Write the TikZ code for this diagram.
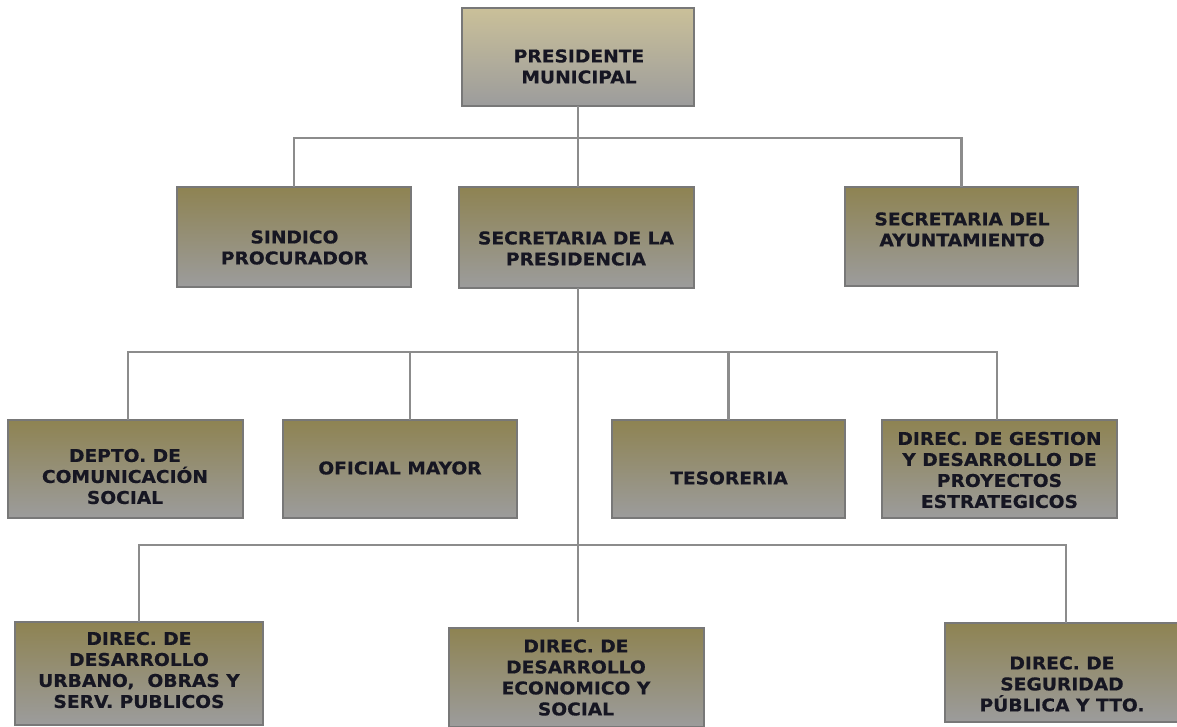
\documentclass[tikz,border=0pt]{standalone}
\usepackage{fontspec}
\newfontfamily\boxfont[FakeStretch=1.06,FakeBold=0.5]{DejaVu Sans}
\usetikzlibrary{calc}
\definecolor{boxtop}{RGB}{142,131,82}
\definecolor{prestop}{RGB}{202,192,153}
\definecolor{boxbot}{RGB}{156,156,156}
\definecolor{boxline}{RGB}{120,120,120}
\definecolor{linecol}{RGB}{140,140,140}
\definecolor{textcol}{RGB}{22,22,34}
\tikzset{
  orgbox/.style 2 args={draw=boxline, line width=0.9pt, top color=boxtop, bottom color=boxbot,
    minimum width=#1*0.75pt, minimum height=#2*0.75pt, inner sep=0pt, outer sep=0pt},
  txt/.style={align=center, font=\boxfont\bfseries\fontsize{13.2}{15.75}\selectfont, text=textcol, inner sep=0pt},
  conn/.style={draw=linecol, line width=1.7pt}
}
\begin{document}
\begin{tikzpicture}[x=0.75pt,y=-0.75pt]
\useasboundingbox (0,0) rectangle (1177,726);
% boxes
\node[orgbox={232}{98}, top color=prestop] (pres) at (578,57) {};
\node[orgbox={234}{100}] (sind) at (294,237) {};
\node[orgbox={235}{101}] (secp) at (576.5,237.5) {};
\node[orgbox={233}{99}] (secay) at (961.5,236.5) {};
\node[orgbox={235}{98}] (depto) at (125.5,469) {};
\node[orgbox={234}{98}] (ofic) at (400,469) {};
\node[orgbox={233}{98}] (teso) at (728.5,469) {};
\node[orgbox={235}{98}] (gest) at (999.5,469) {};
\node[orgbox={248}{103}] (urb) at (139,673.5) {};
\node[orgbox={255}{99}] (econ) at (576.5,677.5) {};
\node[orgbox={234}{99}] (seg) at (1062,672.5) {};
% texts
\node[txt] (pres-t) at (579,66.5) {PRESIDENTE\\MUNICIPAL};
\node[txt] (sind-t) at (294.5,247.5) {SINDICO\\PROCURADOR};
\node[txt] (secp-t) at (576,248.5) {SECRETARIA DE LA\\PRESIDENCIA};
\node[txt] (secay-t) at (962,229.5) {SECRETARIA DEL\\AYUNTAMIENTO};
\node[txt] (depto-t) at (125,476.5) {DEPTO. DE\\COMUNICACIÓN\\SOCIAL};
\node[txt] (ofic-t) at (400,468) {OFICIAL MAYOR};
\node[txt] (teso-t) at (729,478) {TESORERIA};
\node[txt] (gest-t) at (999.5,470) {DIREC. DE GESTION\\Y DESARROLLO DE\\PROYECTOS\\ESTRATEGICOS};
\node[txt] (urb-t) at (139,670) {DIREC. DE\\DESARROLLO\\URBANO,\ \ OBRAS Y\\SERV. PUBLICOS};
\node[txt] (econ-t) at (576,677.5) {DIREC. DE\\DESARROLLO\\ECONOMICO Y\\SOCIAL};
\node[txt] (seg-t) at (1062,684) {DIREC. DE\\SEGURIDAD\\PÚBLICA Y TTO.};
% bus coordinates
\coordinate (b1) at (578,138);
\coordinate (b2) at (578,352);
\coordinate (b3) at (578,545);
\coordinate (tail) at (578,622);
\coordinate (deptoT) at ($(depto.north)+(2.5,0)$);
\coordinate (oficT) at ($(ofic.north)+(10,0)$);
\coordinate (gestT) at ($(gest.north)+(-2.5,0)$);
\coordinate (segT) at ($(seg.north)+(4,0)$);
% connectors
\draw[conn] (pres.south) -- (pres.south |- secp.north);
\draw[conn] (sind.north) |- (b1) -| (secay.north);
\draw[conn] (secp.south -| b2) -- (tail);
\draw[conn] (deptoT) |- (b2) -| (gestT);
\draw[conn] (oficT) -- (oficT |- b2);
\draw[conn] (teso.north) -- (teso.north |- b2);
\draw[conn] (urb.north) |- (b3) -| (segT);
\end{tikzpicture}
\end{document}
